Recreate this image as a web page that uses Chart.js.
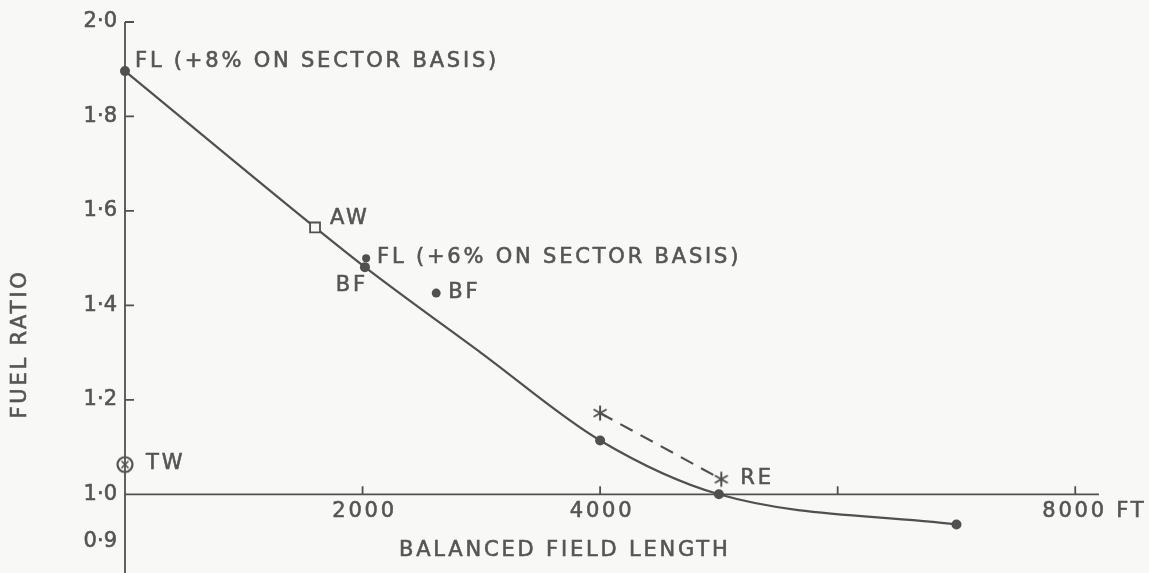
<!DOCTYPE html>
<html>
<head>
<meta charset="utf-8">
<script src="https://cdn.jsdelivr.net/npm/chart.js@4/dist/chart.umd.min.js"></script>
<style>
html,body{margin:0;padding:0;background:#f8f8f6;}
canvas{display:block;}
</style>
</head>
<body>
<canvas id="grafico" width="1149" height="573"></canvas>
<script>
// values (balanced field length in ft, fuel ratio)
const curveX=[0,1600,2020,3000,4000,5000,7000];
const curveY=[1.896,1.565,1.481,1.299,1.114,1.0,0.936];

const dotX=[0,2020,4000,5000,7000];
const dotY=[1.896,1.481,1.114,1.0,0.936];

const awX=[1600];
const awY=[1.565];

const fl6X=[2030];
const fl6Y=[1.50];

const bfX=[2620];
const bfY=[1.426];

const twX=[0];
const twY=[1.063];

const reX=[4000,5020];
const reY=[1.172,1.032];

const xTicks=[2000,4000,6000,8000];
const xTickLabels=["2000","4000","","8000"];
const xUnit="FT";

const yTicks=[0.9,1.0,1.2,1.4,1.6,1.8,2.0];
const yTickLabels=["0·9","1·0","1·2","1·4","1·6","1·8","2·0"];

const xTitle="BALANCED FIELD LENGTH";
const yTitle="FUEL RATIO";

const ink="#505050";
const textInk="#555555";
const paper="#f8f8f6";
const font="21px 'DejaVu Sans'";

const pts=(xs,ys)=>xs.map((x,i)=>({x:x,y:ys[i]}));

// notes next to the marks: text, anchor, offset
const notes=[
{text:"FL (+8% ON SECTOR BASIS)",x:dotX[0],y:dotY[0],dx:10,dy:-4,align:"left"},
{text:"AW",x:awX[0],y:awY[0],dx:15,dy:-3,align:"left"},
{text:"FL (+6% ON SECTOR BASIS)",x:fl6X[0],y:fl6Y[0],dx:11,dy:5,align:"left"},
{text:"BF",x:dotX[1],y:dotY[1],dx:3,dy:24,align:"right"},
{text:"BF",x:bfX[0],y:bfY[0],dx:12,dy:5,align:"left"},
{text:"TW",x:twX[0],y:twY[0],dx:21,dy:4,align:"left"},
{text:"RE",x:reX[1],y:reY[1],dx:19,dy:5,align:"left"}
];

function starIcon(){
let cv=document.createElement("canvas");
cv.width=cv.height=20;
let g=cv.getContext("2d");
g.strokeStyle=ink;
g.lineWidth=2;
g.translate(10,10);
for(let a=0;a<3;a++){
let t=Math.PI/2+a*Math.PI/3;
g.beginPath();
g.moveTo(7.5*Math.cos(t),7.5*Math.sin(t));
g.lineTo(-7.5*Math.cos(t),-7.5*Math.sin(t));
g.stroke();
}
return cv;
}

function crossCircleIcon(){
let cv=document.createElement("canvas");
cv.width=cv.height=22;
let g=cv.getContext("2d");
g.strokeStyle=ink;
g.lineWidth=2.2;
g.translate(11,11);
g.beginPath();
g.arc(0,0,7.5,0,Math.PI*2);
g.stroke();
g.lineWidth=1.6;
g.beginPath();
g.moveTo(-3.5,-3.5);g.lineTo(3.5,3.5);
g.moveTo(3.5,-3.5);g.lineTo(-3.5,3.5);
g.stroke();
return cv;
}

// lettering a bit heavier, like the pen strokes
function letter(c,t,x,y){
c.fillText(t,x,y);
c.strokeText(t,x,y);
}

const drawing={
id:"drawing",
beforeDraw(chart){
let c=chart.ctx;
c.save();
c.fillStyle=paper;
c.fillRect(0,0,chart.width,chart.height);
c.restore();
},
beforeDatasetsDraw(chart){
let c=chart.ctx,xs=chart.scales.x,ys=chart.scales.y;
let x0=xs.getPixelForValue(0),y1=ys.getPixelForValue(1);
c.save();
c.strokeStyle=ink;
c.lineWidth=1.8;
c.beginPath();
c.moveTo(x0,ys.getPixelForValue(2));
c.lineTo(x0,chart.height);
c.moveTo(x0,y1);
c.lineTo(xs.right,y1);
yTicks.forEach(v=>{
if(v<1)return;
let p=ys.getPixelForValue(v);
c.moveTo(x0,p);c.lineTo(x0+9,p);
});
xTicks.forEach(v=>{
let p=xs.getPixelForValue(v);
c.moveTo(p,y1);c.lineTo(p,y1-8);
});
c.stroke();

c.fillStyle=textInk;
c.strokeStyle=textInk;
c.lineWidth=0.6;
c.font=font;
c.letterSpacing="0px";
c.textBaseline="middle";
c.textAlign="right";
yTicks.forEach((v,i)=>{
letter(c,yTickLabels[i],x0-8,ys.getPixelForValue(v));
});
c.letterSpacing="2.8px";
c.textBaseline="alphabetic";
xTicks.forEach((v,i)=>{
let p=xs.getPixelForValue(v);
if(i===xTicks.length-1){
c.textAlign="left";
letter(c,xTickLabels[i]+" "+xUnit,p-33,y1+23);
}else if(xTickLabels[i]){
c.textAlign="center";
letter(c,xTickLabels[i],p+2,y1+23);
}
});
c.textAlign="left";
letter(c,xTitle,399,556);
c.translate(26,344);
c.rotate(-Math.PI/2);
c.textAlign="center";
letter(c,yTitle,0,0);
c.restore();
},
afterDatasetsDraw(chart){
let c=chart.ctx,xs=chart.scales.x,ys=chart.scales.y;
c.save();
c.fillStyle=textInk;
c.strokeStyle=textInk;
c.lineWidth=0.6;
c.font=font;
c.letterSpacing="2.8px";
c.textBaseline="alphabetic";
notes.forEach(n=>{
c.textAlign=n.align;
letter(c,n.text,xs.getPixelForValue(n.x)+n.dx,ys.getPixelForValue(n.y)+n.dy);
});
c.restore();
}
};

new Chart(document.getElementById("grafico"),{
type:"scatter",
data:{
datasets:[
{data:pts(twX,twY),pointStyle:crossCircleIcon(),pointRadius:8,clip:false},
{data:pts(reX,reY),pointStyle:starIcon(),pointRadius:8,showLine:true,borderColor:ink,borderWidth:2.2,borderDash:[14,9],clip:false},
{data:pts(awX,awY),pointStyle:"rect",pointRadius:7,borderColor:ink,backgroundColor:paper,borderWidth:1.8,clip:false},
{data:pts(fl6X,fl6Y),pointRadius:4,backgroundColor:ink,borderColor:ink,borderWidth:0,clip:false},
{data:pts(bfX,bfY),pointRadius:4.5,backgroundColor:ink,borderColor:ink,borderWidth:0,clip:false},
{data:pts(dotX,dotY),pointRadius:5,backgroundColor:ink,borderColor:ink,borderWidth:0,clip:false},
{data:pts(curveX,curveY),showLine:true,pointRadius:0,borderColor:ink,borderWidth:2.2,cubicInterpolationMode:"monotone",clip:false}
]
},
options:{
responsive:false,
animation:false,
events:[],
layout:{padding:{left:125,right:50,top:22,bottom:1}},
plugins:{legend:{display:false},tooltip:{enabled:false}},
scales:{
x:{type:"linear",display:false,min:0,max:8200},
y:{type:"linear",display:false,min:0.855,max:2.0}
}
},
plugins:[drawing]
});
</script>
</body>
</html>
